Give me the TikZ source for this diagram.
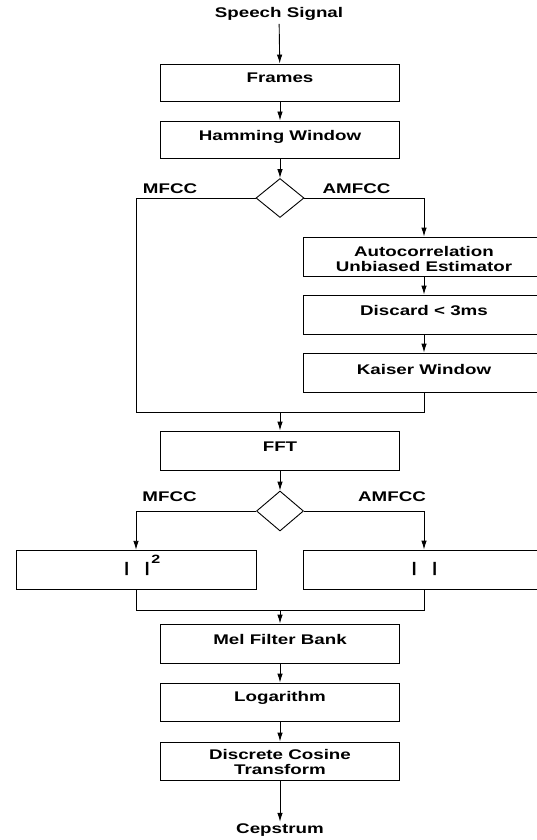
\documentclass[tikz,border=0pt]{standalone}
\usepackage{fontspec}
\newfontfamily\figfont{Liberation Sans}[FakeStretch=1.34]
\usetikzlibrary{arrows.meta,shapes.geometric}
\begin{document}
\begin{tikzpicture}[x=1pt,y=-1pt,
  line width=0.9pt,
  box/.style={draw,rectangle,inner sep=0pt,minimum width=239pt,minimum height=38pt},
  rbox/.style={box,minimum width=242pt,minimum height=39pt},
  dec/.style={draw,diamond,inner sep=0pt,minimum width=48pt,minimum height=39pt},
  lbl/.style={font=\figfont\bfseries\fontsize{14}{14.5}\selectfont,inner sep=0pt,anchor=base},
  arr/.style={-{Latex[length=9pt,width=5.5pt]}},
]
\useasboundingbox (0,0) rectangle (537,840);
\clip (0,0) rectangle (537,840);

% boxes
\node[box,minimum height=37pt] (frames) at (280,82.5) {};
\node[box,minimum height=37pt] (hamming) at (280,139.5) {};
\node[dec] (d1) at (280,198) {};
\node[rbox] (autocorr) at (424,256.5) {};
\node[rbox] (discard) at (424,314.5) {};
\node[rbox] (kaiser) at (424,372.5) {};
\node[box,minimum height=39pt] (fft) at (280,450.5) {};
\node[dec,minimum width=47pt,minimum height=40pt] (d2) at (280,511) {};
\node[box,minimum width=240pt,minimum height=39.5pt] (sq) at (136,570) {};
\node[rbox] (abs) at (424,569.5) {};
\node[box,minimum height=39pt] (mel) at (280,643.5) {};
\node[box] (logn) at (280,702) {};
\node[box] (dct) at (280,761) {};

% texts
\node[lbl] (speech) at (279,17.5) {Speech Signal};
\node[lbl] (tframes) at (280,82.5) {Frames};
\node[lbl] (thamming) at (280,140.7) {Hamming Window};
\node[lbl] (mfcca) at (170,193) {MFCC};
\node[lbl] (amfcca) at (356.5,193) {AMFCC};
\node[lbl] (tauto1) at (424,256.7) {Autocorrelation};
\node[lbl] (tauto2) at (424,271) {Unbiased Estimator};
\node[lbl] (tdiscard) at (424,315.7) {Discard < 3ms};
\node[lbl] (tkaiser) at (424,374) {Kaiser Window};
\node[lbl] (tfft) at (280,451.5) {FFT};
\node[lbl] (mfccb) at (169.5,501.5) {MFCC};
\node[lbl] (amfccb) at (392,501.5) {AMFCC};
\node[lbl] (tsq) at (137,572) {|\hspace{15.4pt}|\rlap{\hspace{1.5pt}\raisebox{8.5pt}{\fontsize{12}{12}\selectfont 2}}};
\node[lbl] (tabs) at (424.5,572) {|\hspace{15.4pt}|};
\node[lbl] (tmel) at (280,644) {Mel Filter Bank};
\node[lbl] (tlog) at (280,701.7) {Logarithm};
\node[lbl] (tdct1) at (280,759.3) {Discrete Cosine};
\node[lbl] (tdct2) at (280,774) {Transform};
\node[lbl] (cep) at (280,833) {Cepstrum};

% junctions
\coordinate (j1l) at (136,412);
\coordinate (j1c) at (280,412);
\coordinate (j1r) at (424,412);
\coordinate (j2l) at (136,610);
\coordinate (j2c) at (280,610);
\coordinate (j2r) at (424,610);

% connectors
\draw[arr,shorten <=3pt] (speech) -- (frames);
\draw[arr] (frames) -- (hamming);
\draw[arr] (hamming) -- (d1);
\draw (d1.west) -| (j1l) -- (j1r) -- (kaiser.south);
\draw[arr] (d1.east) -| (autocorr.north);
\draw[arr] (autocorr) -- (discard);
\draw[arr] (discard) -- (kaiser);
\draw[arr] (j1c) -- (fft);
\draw[arr] (fft) -- (d2);
\draw[arr] (d2.west) -| (sq.north);
\draw[arr] (d2.east) -| (abs.north);
\draw (sq.south) -- (j2l) -- (j2r) -- (abs.south);
\draw[arr] (j2c) -- (mel);
\draw[arr] (mel) -- (logn);
\draw[arr] (logn) -- (dct);
\draw[arr,shorten >=1pt] (dct) -- (cep);
\end{tikzpicture}
\end{document}
